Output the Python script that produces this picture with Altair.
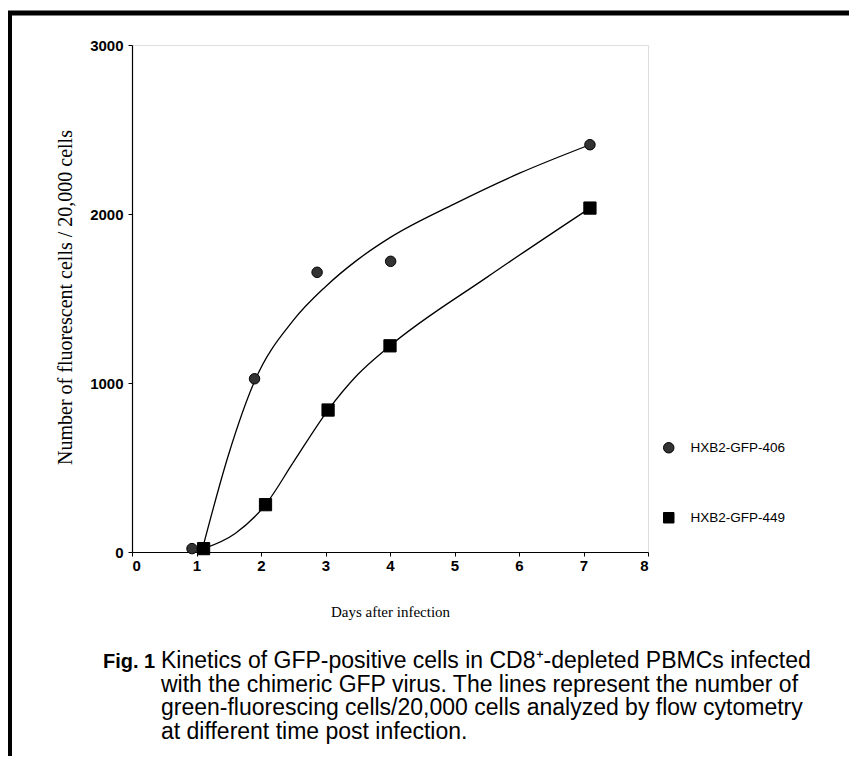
import altair as alt
import pandas as pd

# ---- data ----
series_names = ["HXB2-GFP-406", "HXB2-GFP-449"]
days_406 = [0.93, 1.90, 2.87, 4.01, 7.10]
vals_406 = [20, 1025, 1655, 1720, 2410]
days_449 = [1.11, 2.07, 3.04, 4.00, 7.10]
vals_449 = [20, 280, 840, 1220, 2035]
# fitted curves as drawn in the picture
fit_406_days = [1.10, 1.50, 1.90, 2.50, 3.00, 3.50, 4.00, 5.00, 6.00, 7.10]
fit_406_vals = [30, 580, 1010, 1370, 1570, 1730, 1860, 2060, 2240, 2410]
fit_449_days = [1.11, 1.60, 2.07, 2.50, 3.04, 3.50, 4.00, 5.50, 7.10]
fit_449_vals = [20, 110, 280, 530, 840, 1050, 1220, 1625, 2035]
x_ticks = [0, 1, 2, 3, 4, 5, 6, 7, 8]
y_ticks = [0, 1000, 2000, 3000]

x_title = "Days after infection"
y_title = "Number of fluorescent cells / 20,000 cells"
fig_label = "Fig. 1"
caption_lines = [
    "Kinetics of GFP-positive cells in CD8\u207a-depleted PBMCs infected",
    "with the chimeric GFP virus. The lines represent the number of",
    "green-fluorescing cells/20,000 cells analyzed by flow cytometry",
    "at different time post infection.",
]

pts = pd.DataFrame({
    "day": days_406 + days_449,
    "value": vals_406 + vals_449,
    "series": [series_names[0]] * len(days_406) + [series_names[1]] * len(days_449),
})
curve_406 = pd.DataFrame({"day": fit_406_days, "value": fit_406_vals})
curve_449 = pd.DataFrame({"day": fit_449_days, "value": fit_449_vals})

W, H = 516, 507
LEFT, TOP = 124, 37
TOTAL_W, TOTAL_H = 841, 748

x_scale = alt.Scale(domain=[0, 8], nice=False, zero=False)
y_scale = alt.Scale(domain=[0, 3000], nice=False)

x_enc = alt.X("day:Q", scale=x_scale, axis=alt.Axis(
    values=x_ticks, title=x_title, format="d", grid=False,
    labelFont="Liberation Sans", labelFontWeight="bold", labelFontSize=15,
    labelColor="black", tickColor="black", domainColor="black",
    tickSize=4, labelPadding=2, domainWidth=1.2,
    titleFont="Liberation Serif", titleFontWeight="normal", titleFontSize=15,
    titleColor="black", titlePadding=31))
y_enc = alt.Y("value:Q", scale=y_scale, axis=alt.Axis(
    values=y_ticks, title=y_title, format="d", grid=False,
    labelFont="Liberation Sans", labelFontWeight="bold", labelFontSize=15,
    labelColor="black", tickColor="black", domainColor="black",
    tickSize=4, labelPadding=5, domainWidth=1.2,
    titleFont="Liberation Serif", titleFontWeight="normal", titleFontSize=20,
    titleColor="black", titleX=-67, titleY=252, titleAngle=270,
    titleAlign="center", titleBaseline="middle"))

line406 = alt.Chart(curve_406).mark_line(
    color="black", strokeWidth=1.3, interpolate="monotone"
).encode(x=x_enc, y=y_enc)
line449 = alt.Chart(curve_449).mark_line(
    color="black", strokeWidth=1.3, interpolate="monotone"
).encode(x="day:Q", y="value:Q")

legend_cfg = dict(title=None, orient="none", legendX=530, legendY=396,
                  labelFont="Liberation Sans", labelFontSize=13.5,
                  labelColor="black", labelOffset=15,
                  rowPadding=55, symbolSize=110, symbolStrokeWidth=1)

points = alt.Chart(pts).mark_point(filled=True, opacity=1, strokeWidth=1).encode(
    x="day:Q", y="value:Q",
    shape=alt.Shape("series:N", scale=alt.Scale(domain=series_names, range=["circle", "square"]),
                    legend=alt.Legend(**legend_cfg)),
    color=alt.Color("series:N", scale=alt.Scale(domain=series_names, range=["#333333", "#000000"]),
                    legend=alt.Legend(**legend_cfg)),
    stroke=alt.value("black"),
    size=alt.condition(alt.datum.series == series_names[0], alt.value(110), alt.value(150)),
)

one = pd.DataFrame({"k": [0]})
# page frame (top and left border of the scanned figure)
frame_top = alt.Chart(one).mark_rule(color="black", strokeWidth=5).encode(
    x=alt.value(-LEFT), x2=alt.value(TOTAL_W - LEFT), y=alt.value(-32))
frame_left = alt.Chart(one).mark_rule(color="black", strokeWidth=4).encode(
    x=alt.value(-LEFT + 2), y=alt.value(-34), y2=alt.value(TOTAL_H - TOP))

fig_text = alt.Chart(one).mark_text(
    align="left", baseline="alphabetic", font="Liberation Sans", fontWeight="bold",
    fontSize=20, color="black"
).encode(x=alt.value(-29), y=alt.value(623), text=alt.value(fig_label))
cap_text = alt.Chart(one).mark_text(
    align="left", baseline="alphabetic", font="Liberation Sans", fontSize=23,
    color="black", lineBreak="\n", lineHeight=23.5
).encode(x=alt.value(29), y=alt.value(623), text=alt.value("\n".join(caption_lines)))

chart = alt.layer(line406, line449, points, frame_top, frame_left, fig_text, cap_text).properties(
    width=W, height=H,
    autosize=alt.AutoSizeParams(type="none"),
    padding={"left": LEFT, "top": TOP, "right": TOTAL_W - LEFT - W, "bottom": TOTAL_H - TOP - H},
).configure_view(stroke="black", strokeWidth=1.2).configure(background="white")

chart.save("out.html", embed_options={"renderer": "svg", "actions": False})
